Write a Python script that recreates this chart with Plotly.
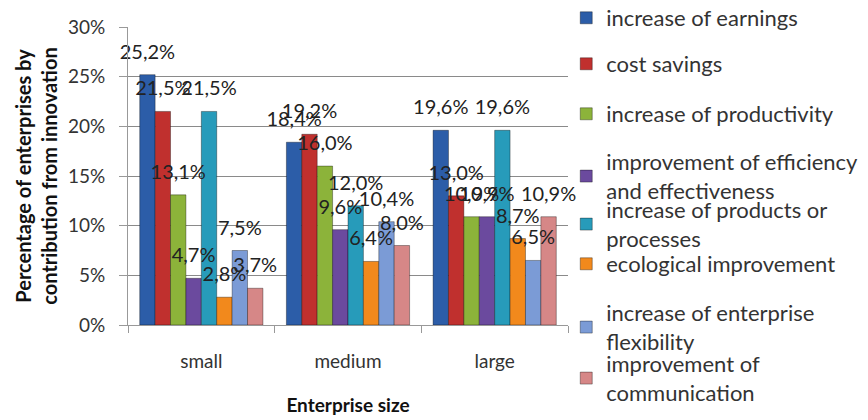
import plotly.graph_objects as go

categories = ["small", "medium", "large"]
series_names = [
    "increase of earnings",
    "cost savings",
    "increase of productivity",
    "improvement of efficiency<br>and effectiveness",
    "increase of products or<br>processes",
    "ecological improvement",
    "increase of enterprise<br>flexibility",
    "improvement of<br>communication",
]
earnings = [25.2, 18.4, 19.6]
cost_savings = [21.5, 19.2, 13.0]
productivity = [13.1, 16.0, 10.9]
efficiency = [4.7, 9.6, 10.9]
products = [21.5, 12.0, 19.6]
ecological = [2.8, 6.4, 8.7]
flexibility = [7.5, 10.4, 6.5]
communication = [3.7, 8.0, 10.9]
series_values = [earnings, cost_savings, productivity, efficiency,
                 products, ecological, flexibility, communication]
colors = ["#2C5DA8", "#C0302E", "#8CB33A", "#6B4A9E",
          "#279BBA", "#F2891C", "#7B9BD6", "#D68787"]
y_ticks = [0, 5, 10, 15, 20, 25, 30]
y_tick_labels = ["0%", "5%", "10%", "15%", "20%", "25%", "30%"]

FONT = "Lato"
GAP = 0.16
# legend first-line centre positions in pixels
legend_centres = [17, 63, 113, 161, 209, 263, 312, 363]
plot_top, plot_bottom = 27, 325

fig = go.Figure()
for i, (name, vals, col) in enumerate(zip(series_names, series_values, colors)):
    lg = "legend" if i == 0 else f"legend{i+1}"
    fig.add_trace(go.Bar(
        x=categories, y=vals, name=name,
        marker=dict(color=col, line=dict(color="rgba(0,0,0,0.35)", width=1)),
        legend=lg, showlegend=True,
    ))
for i, vals in enumerate(series_values):
    fig.add_trace(go.Scatter(
        x=categories, y=vals, mode="markers+text",
        text=[f"{v:.1f}%".replace(".", ",") for v in vals],
        textposition="top center",
        marker=dict(size=16, opacity=0),
        textfont=dict(family=FONT, size=20, color="#222222"),
        cliponaxis=False, showlegend=False, hoverinfo="skip",
    ))

legends = {}
for i, c in enumerate(legend_centres):
    key = "legend" if i == 0 else f"legend{i+1}"
    top = c - 20
    legends[key] = dict(
        x=0.996, xanchor="left",
        y=(plot_bottom - top) / (plot_bottom - plot_top), yanchor="top",
        font=dict(family=FONT, size=22, color="#333333"),
        bgcolor="rgba(0,0,0,0)", itemwidth=30,
        tracegroupgap=0, visible=True,
    )

fig.update_layout(
    width=868, height=420,
    margin=dict(l=128, r=300, t=27, b=95, autoexpand=False),
    paper_bgcolor="white", plot_bgcolor="white",
    showlegend=True,
    barmode="group", bargap=GAP, bargroupgap=0,
    scattermode="group", scattergap=GAP,
    font=dict(family=FONT, size=18, color="#333333"),
    xaxis=dict(
        showline=True, linecolor="#999999", linewidth=1,
        ticks="outside", tickson="boundaries", ticklen=7, tickcolor="#999999",
        ticklabelstandoff=19,
        tickfont=dict(family=FONT, size=19, color="#333333"),
        title=dict(text="<b>Enterprise size</b>", font=dict(family=FONT, size=19, color="#111111"), standoff=27),
    ),
    yaxis=dict(
        range=[0, 30], tickvals=y_ticks, ticktext=y_tick_labels,
        showgrid=True, gridcolor="#8a8a8a", gridwidth=1,
        showline=True, linecolor="#999999", linewidth=1,
        ticks="outside", ticklen=8, tickcolor="#999999",
        ticklabelstandoff=10,
        zeroline=False,
        tickfont=dict(family=FONT, size=19, color="#333333"),
        title=dict(text="<b>Percentage of enterprises by<br>contribution from innovation</b>",
                   font=dict(family=FONT, size=20, color="#111111"), standoff=4),
    ),
    **legends,
)

fig.write_html("out.html")
